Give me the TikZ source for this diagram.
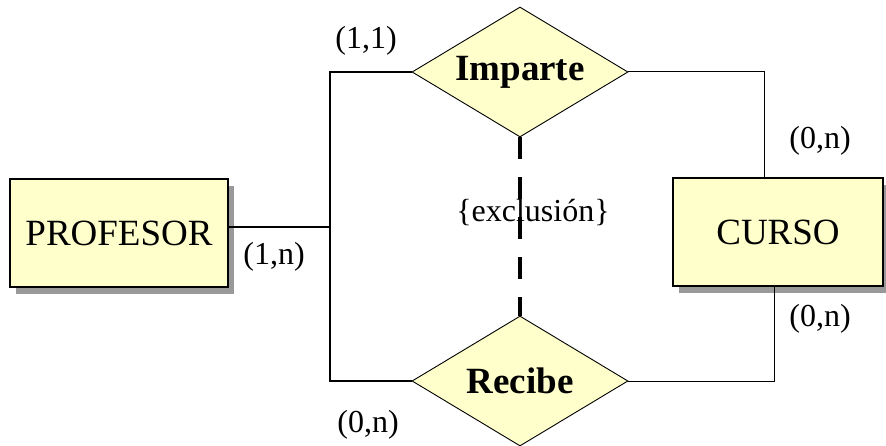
\documentclass[tikz,border=0pt]{standalone}
\usepackage{fontspec}
\setmainfont{Liberation Serif}
\usetikzlibrary{shapes.geometric,shadows}
\definecolor{paleyellow}{HTML}{FFFFCC}
\definecolor{shadowgray}{HTML}{999999}
\tikzset{
  entity/.style={draw, line width=1.2pt, fill=paleyellow, inner sep=0pt,
    font=\fontsize{37}{40}\selectfont,
    drop shadow={shadow xshift=6pt, shadow yshift=-7pt, fill=shadowgray, opacity=1}},
  relation/.style={draw, line width=0.9pt, fill=paleyellow, diamond, aspect=1.66,
    inner sep=0pt, minimum width=216pt, minimum height=130pt,
    font=\fontsize{37}{40}\selectfont\bfseries},
  card/.style={font=\fontsize{32}{36}\selectfont, inner sep=0pt},
  thickconn/.style={line width=1.6pt},
  thinconn/.style={line width=1pt},
  exclline/.style={line width=4.5pt, dash pattern=on 22pt off 18pt}
}
\begin{document}
\begin{tikzpicture}[x=1pt,y=-1pt]
\useasboundingbox (0,0) rectangle (886,446);
\clip (0,0) rectangle (886,446);
\node[entity, minimum width=218pt, minimum height=108pt] (prof) at (119,233) {PROFESOR};
\node[entity, minimum width=210pt, minimum height=108pt] (curso) at (778,232) {CURSO};
\node[relation] (imp) at (520,72) {Imparte};
\node[relation] (rec) at (520,381) {Recibe};
\coordinate (j) at (330,227);
\draw[thickconn] (prof.east |- j) -- (j);
\draw[thickconn] (imp.west) -- (imp.west -| j) -- (rec.west -| j) -- (rec.west);
\draw[thinconn] (imp.east) -| ([xshift=-14pt]curso.north);
\draw[thinconn] (rec.east) -| ([xshift=-4pt]curso.south);
\node[card] (excl) at (533,213) {\{exclusión\}};
\draw[exclline] (imp.south) -- (rec.north);
\node[card] (l11) at (366,41) {(1,1)};
\node[card] (l1n) at (274,257) {(1,n)};
\node[card] (l0n1) at (820,141) {(0,n)};
\node[card] (l0n2) at (820,319) {(0,n)};
\node[card] (l0n3) at (368,425) {(0,n)};
\end{tikzpicture}
\end{document}
